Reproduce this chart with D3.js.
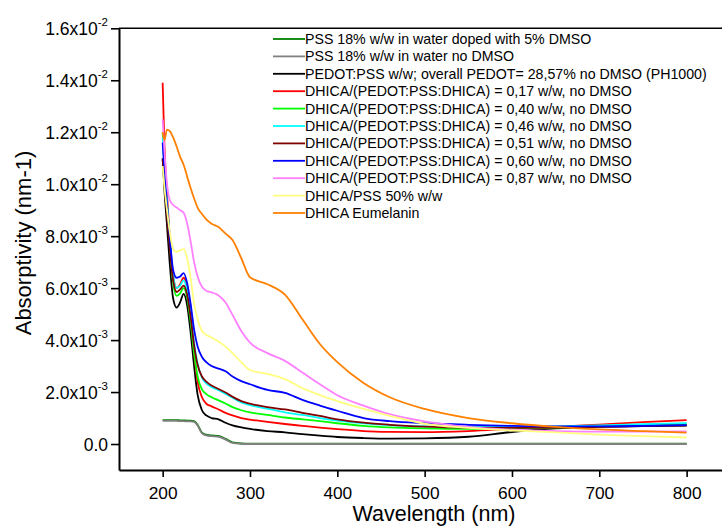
<!DOCTYPE html>
<html><head><meta charset="utf-8">
<script src="https://cdn.jsdelivr.net/npm/d3@7"></script>
<style>
body{margin:0;background:#fff}
svg text{font-family:Arial,"Liberation Sans",sans-serif;fill:#000}
</style>
</head><body>
<svg id="chart" width="722" height="528"></svg>
<script>
// ---------- DATA (absorptivity in units of 1e-3 nm^-1) ----------
const wavelength = [200,202,205,208,212,216,220,224,228,232,236,240,245,250,256,264,272,280,290,300,320,340,360,380,400,430,460,500,550,600,650,700,750,800];

const pssDmso     = [0.92,0.92,0.92,0.92,0.92,0.92,0.91,0.91,0.90,0.90,0.88,0.74,0.44,0.36,0.33,0.31,0.20,0.06,0.02,0.01,0.01,0.01,0.01,0.01,0.01,0.01,0.01,0.01,0.01,0.01,0.01,0.01,0.01,0.01];
const pssNoDmso   = [0.89,0.89,0.89,0.89,0.89,0.89,0.88,0.88,0.87,0.87,0.85,0.71,0.41,0.33,0.30,0.28,0.17,0.04,0.01,0.0,0.0,0.0,0.0,0.0,0.0,0.0,0.0,0.0,0.0,0.0,0.0,0.0,0.0,0.0];
const pedotPss    = [11.0,9.8,8.4,7.0,5.6,5.25,5.45,5.78,5.35,4.3,3.0,1.9,1.3,1.1,1.0,0.95,0.82,0.72,0.64,0.58,0.50,0.45,0.38,0.32,0.27,0.23,0.21,0.22,0.28,0.46,0.60,0.66,0.69,0.71];
const dhica017    = [13.9,11.5,9.6,8.0,6.5,6.0,6.15,6.4,6.0,4.9,3.5,2.4,1.8,1.55,1.45,1.33,1.2,1.1,1.0,0.94,0.85,0.77,0.70,0.63,0.57,0.50,0.47,0.46,0.50,0.58,0.66,0.75,0.84,0.92];
const dhica040    = [12.0,10.7,9.2,7.8,6.2,5.7,5.8,6.0,5.65,4.7,3.5,2.6,2.1,1.92,1.8,1.68,1.56,1.42,1.3,1.22,1.12,1.02,0.95,0.88,0.80,0.70,0.64,0.60,0.58,0.60,0.63,0.68,0.73,0.78];
const dhica046    = [11.8,10.6,9.3,8.0,6.5,6.0,6.1,6.3,5.9,5.0,3.9,3.1,2.55,2.33,2.2,2.07,1.93,1.78,1.6,1.5,1.36,1.22,1.12,1.0,0.90,0.80,0.73,0.68,0.66,0.66,0.68,0.72,0.76,0.80];
const dhica051    = [10.95,10.0,8.8,7.6,6.3,5.85,5.95,6.1,5.75,4.9,3.8,3.05,2.6,2.4,2.25,2.12,1.98,1.82,1.65,1.55,1.42,1.33,1.2,1.08,0.95,0.82,0.74,0.67,0.63,0.62,0.63,0.66,0.69,0.72];
const dhica060    = [11.6,10.5,9.2,8.0,6.7,6.4,6.45,6.58,6.2,5.4,4.4,3.75,3.35,3.15,3.0,2.9,2.8,2.6,2.42,2.3,2.08,1.97,1.7,1.48,1.28,1.0,0.88,0.80,0.74,0.70,0.68,0.68,0.70,0.73];
const dhica087    = [12.5,11.3,10.0,9.4,9.2,9.1,9.0,8.9,8.5,7.8,7.0,6.45,6.05,5.9,5.84,5.72,5.45,4.97,4.35,3.9,3.5,3.2,2.75,2.3,1.88,1.48,1.15,0.87,0.66,0.55,0.50,0.48,0.48,0.49];
const dhicaPss50  = [10.7,9.9,9.0,8.2,7.5,7.4,7.45,7.5,7.15,6.4,5.4,4.8,4.35,4.2,4.1,3.95,3.75,3.5,3.15,2.85,2.7,2.5,2.15,1.88,1.65,1.35,1.08,0.78,0.62,0.52,0.45,0.36,0.30,0.25];
const eumelanin   = [12.0,11.7,12.1,12.05,11.8,11.45,11.05,10.75,10.3,9.85,9.45,9.1,8.85,8.65,8.48,8.35,8.1,7.85,7.15,6.42,6.15,5.75,4.8,3.85,3.15,2.35,1.8,1.35,1.0,0.80,0.66,0.56,0.50,0.44];

const seriesNames = [
  "PSS 18% w/w in water doped with 5% DMSO",
  "PSS 18% w/w in water no DMSO",
  "PEDOT:PSS w/w; overall PEDOT= 28,57% no DMSO (PH1000)",
  "DHICA/(PEDOT:PSS:DHICA) = 0,17 w/w, no DMSO",
  "DHICA/(PEDOT:PSS:DHICA) = 0,40 w/w, no DMSO",
  "DHICA/(PEDOT:PSS:DHICA) = 0,46 w/w, no DMSO",
  "DHICA/(PEDOT:PSS:DHICA) = 0,51 w/w, no DMSO",
  "DHICA/(PEDOT:PSS:DHICA) = 0,60 w/w, no DMSO",
  "DHICA/(PEDOT:PSS:DHICA) = 0,87 w/w, no DMSO",
  "DHICA/PSS 50% w/w",
  "DHICA Eumelanin"
];
const seriesValues = [pssDmso,pssNoDmso,pedotPss,dhica017,dhica040,dhica046,dhica051,dhica060,dhica087,dhicaPss50,eumelanin];
const seriesColors = ["#008000","#808080","#000000","#ff0000","#00ff00","#00ffff","#800000","#0000ff","#ff80ff","#ffff80","#ff8000"];
const valueScale = 1e-3;

const xMajorTicks = [200,300,400,500,600,700,800];
const xMinorTicks = [150,250,350,450,550,650,750,850];
const yMajorTicks = [0,0.002,0.004,0.006,0.008,0.010,0.012,0.014,0.016];
const yMinorTicks = [-0.001,0.001,0.003,0.005,0.007,0.009,0.011,0.013,0.015];
const yTickMantissa = ["0.0","2.0","4.0","6.0","8.0","1.0","1.2","1.4","1.6"];
const yTickExponent = ["","-3","-3","-3","-3","-2","-2","-2","-2"];
const xTitle = "Wavelength (nm)";
const yTitle = "Absorptivity (nm-1)";

// ---------- CHART ----------
const svg = d3.select("#chart");
const x = d3.scaleLinear().domain([150,850]).range([119,730.3]);
const y = d3.scaleLinear().domain([-0.001,0.016]).range([470,28.3]);

const line = d3.line()
  .x((d,i)=>x(wavelength[i]))
  .y(d=>y(d*valueScale))
  .curve(d3.curveMonotoneX);

const gLines = svg.append("g");
seriesValues.forEach((vals,k)=>{
  gLines.append("path")
    .attr("d", line(vals))
    .attr("fill","none")
    .attr("stroke", seriesColors[k])
    .attr("stroke-width", 1.8)
    .attr("stroke-linejoin","round");
});

// frame (top and right; right lies beyond the visible area as in the original)
svg.append("line")
  .attr("x1", x.range()[0]).attr("x2", x.range()[1])
  .attr("y1", y.range()[1]).attr("y2", y.range()[1])
  .attr("stroke","#000").attr("stroke-width",1.6);
svg.append("line")
  .attr("x1", x.range()[1]).attr("x2", x.range()[1])
  .attr("y1", y.range()[1]).attr("y2", y.range()[0])
  .attr("stroke","#000").attr("stroke-width",1.6);

const FONT = "Arial, 'Liberation Sans', sans-serif";

// x axis
const gx = svg.append("g").attr("transform",`translate(0,${y.range()[0]})`);
gx.call(d3.axisBottom(x).tickValues(xMinorTicks).tickSize(4).tickSizeOuter(0).tickFormat(""));
gx.call(d3.axisBottom(x).tickValues(xMajorTicks).tickSize(7).tickSizeOuter(0).tickPadding(10));
gx.selectAll(".domain").attr("stroke-width",2);
gx.selectAll(".tick line").attr("stroke-width",1.6);
gx.selectAll(".tick text").attr("font-size",17.3).attr("font-family",FONT);

// y axis
const gy = svg.append("g").attr("transform",`translate(${x.range()[0]},0)`);
gy.call(d3.axisLeft(y).tickValues(yMinorTicks).tickSize(4).tickSizeOuter(0).tickFormat(""));
gy.call(d3.axisLeft(y).tickValues(yMajorTicks).tickSize(8).tickSizeOuter(0).tickPadding(10).tickFormat(""));
gy.selectAll(".domain").attr("stroke-width",2);
gy.selectAll(".tick line").attr("stroke-width",1.6);
gy.selectAll(".tick").filter(d=>yMajorTicks.includes(d)).each(function(d){
  const i = yMajorTicks.indexOf(d);
  const t = d3.select(this).select("text")
    .attr("font-size",17.5).attr("font-family",FONT)
    .attr("x",-11).attr("dy","0.35em").attr("text-anchor","end");
  t.text(null);
  if (yTickExponent[i]) {
    t.append("tspan").text(yTickMantissa[i] + "x10");
    t.append("tspan").text(yTickExponent[i]).attr("font-size",11.5).attr("dy","-0.75em");
  } else {
    t.append("tspan").text(yTickMantissa[i]);
  }
});

// axis titles
svg.append("text").text(xTitle)
  .attr("x",434).attr("y",521)
  .attr("text-anchor","middle").attr("font-size",21.5);
svg.append("text").text(yTitle)
  .attr("transform",`translate(31,243) rotate(-90)`)
  .attr("text-anchor","middle").attr("font-size",22);

// legend
const lg = svg.append("g");
seriesNames.forEach((name,k)=>{
  const yy = 39 + k*17.4;
  lg.append("line").attr("x1",273).attr("x2",305).attr("y1",yy).attr("y2",yy)
    .attr("stroke",seriesColors[k]).attr("stroke-width",1.8);
  lg.append("text").text(name).attr("x",305).attr("y",yy).attr("dy","0.35em")
    .attr("font-size",14.2);
});
</script>
</body></html>
